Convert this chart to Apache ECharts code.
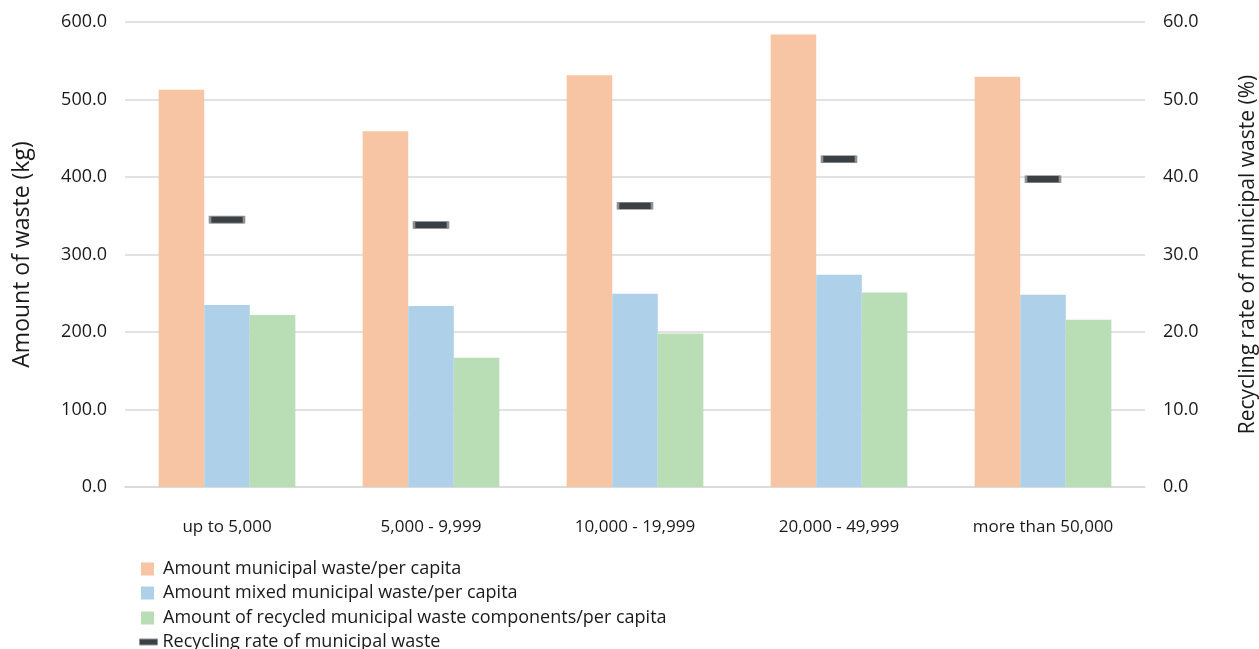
<!DOCTYPE html>
<html>
<head>
<meta charset="utf-8">
<script src="https://cdn.jsdelivr.net/npm/echarts@6/dist/echarts.min.js"></script>
<style>
html,body{margin:0;padding:0;background:#fff;}
#c{width:1259px;height:649px;}
</style>
</head>
<body>
<div id="c"></div>
<script>
const categories = ['up to 5,000', '5,000 - 9,999', '10,000 - 19,999', '20,000 - 49,999', 'more than 50,000'];
const municipalWaste = [512.5, 459.0, 531.4, 584.0, 529.5];
const mixedWaste = [234.8, 233.5, 249.4, 273.9, 248.0];
const recycledWaste = [221.8, 166.7, 198.1, 251.0, 215.7];
const recyclingRate = [34.5, 33.8, 36.3, 42.3, 39.7];
const leftTicks = {min: 0, max: 600, interval: 100};
const rightTicks = {min: 0, max: 60, interval: 10};

const names = [
  'Amount municipal waste/per capita',
  'Amount mixed municipal waste/per capita',
  'Amount of recycled municipal waste components/per capita',
  'Recycling rate of municipal waste'
];
const colors = ['#f7c5a3', '#aed0e8', '#b9ddb4', '#3b4045'];
const FONT = 'Open Sans';
const txt = '#1a1a1a';

const chart = echarts.init(document.getElementById('c'), null, {renderer: 'canvas'});

function legendFor(i, top) {
  const isLine = i === 3;
  return {
    orient: 'vertical', left: isLine ? 134 : 136, top: top,
    data: [{name: names[i], icon: 'rect', itemStyle: isLine ? {color: colors[3], borderColor: '#8e9194', borderWidth: 1} : {color: colors[i]}}],
    itemWidth: isLine ? 18 : 13, itemHeight: isLine ? 6 : 13,
    textStyle: {fontFamily: FONT, fontSize: 18, color: txt, padding: [0, 0, 0, isLine ? 0 : 4]},
    selectedMode: false
  };
}

chart.setOption({
  animation: false,
  textStyle: {fontFamily: FONT},
  grid: {left: 125, right: 114, top: 22, bottom: 162, outerBoundsMode: 'none', containLabel: false},
  legend: [legendFor(0, 555), legendFor(1, 579), legendFor(2, 604), legendFor(3, 628)],
  xAxis: {
    type: 'category', data: categories,
    axisLine: {lineStyle: {color: '#d9d9d9', width: 1.5}},
    axisTick: {show: false},
    axisLabel: {fontFamily: FONT, fontSize: 17, color: txt, margin: 32}
  },
  yAxis: [{
    type: 'value', min: leftTicks.min, max: leftTicks.max, interval: leftTicks.interval,
    name: 'Amount of waste (kg)', nameLocation: 'middle', nameGap: 91,
    nameTextStyle: {fontFamily: FONT, fontSize: 23, color: txt},
    axisLine: {show: false}, axisTick: {show: false},
    axisLabel: {fontFamily: FONT, fontSize: 18, color: txt, margin: 18, formatter: v => v.toFixed(1)},
    splitLine: {lineStyle: {color: '#d9d9d9', width: 1.5}}
  }, {
    type: 'value', min: rightTicks.min, max: rightTicks.max, interval: rightTicks.interval,
    name: 'Recycling rate of municipal waste (%)', nameLocation: 'middle', nameGap: 93, nameRotate: 90,
    nameTextStyle: {fontFamily: FONT, fontSize: 21, color: txt},
    axisLine: {show: false}, axisTick: {show: false},
    axisLabel: {fontFamily: FONT, fontSize: 18, color: txt, margin: 18, formatter: v => v.toFixed(1)},
    splitLine: {show: false}
  }],
  series: [
    {name: names[0], type: 'bar', data: municipalWaste, itemStyle: {color: colors[0]}, barGap: '0%', barCategoryGap: '33%'},
    {name: names[1], type: 'bar', data: mixedWaste, itemStyle: {color: colors[1]}, barGap: '0%', barCategoryGap: '33%'},
    {name: names[2], type: 'bar', data: recycledWaste, itemStyle: {color: colors[2]}, barGap: '0%', barCategoryGap: '33%'},
    {name: names[3], type: 'line', yAxisIndex: 1, data: recyclingRate,
     lineStyle: {width: 0, opacity: 0}, symbol: 'rect', symbolSize: [34, 7], showSymbol: true,
     itemStyle: {color: colors[3], borderColor: '#8e9194', borderWidth: 1.2}, z: 5}
  ]
});
</script>
</body>
</html>
